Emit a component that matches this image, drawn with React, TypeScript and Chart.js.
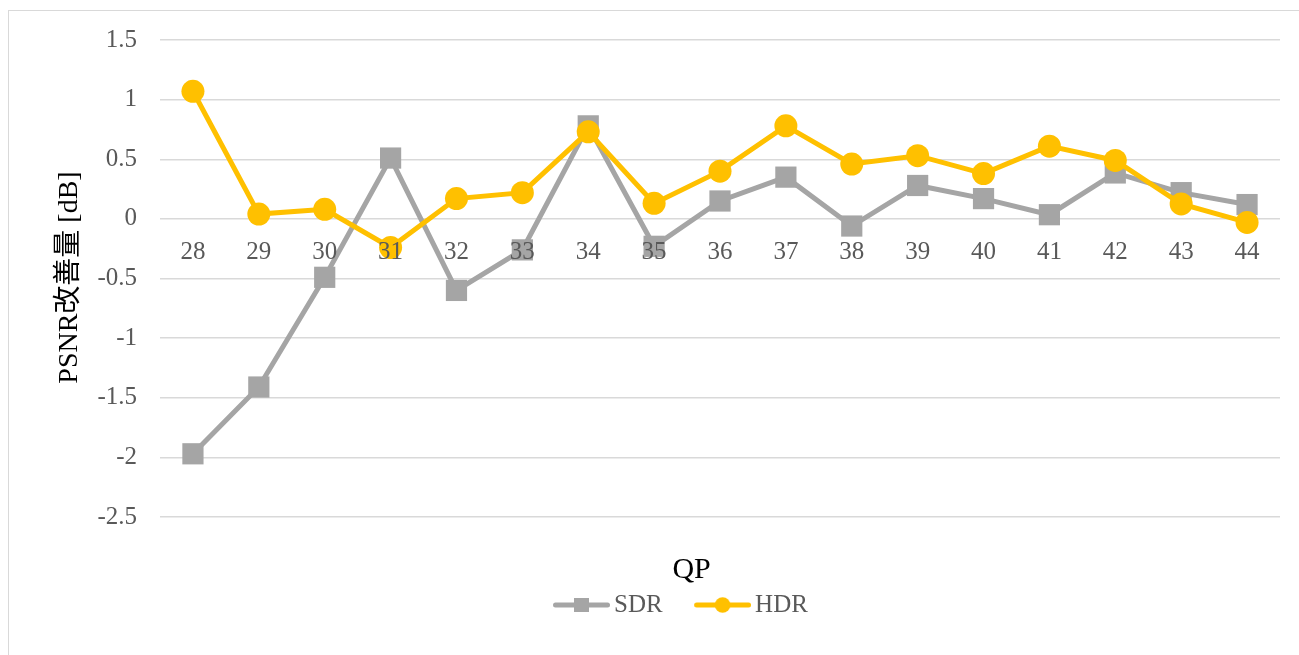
import React, { useEffect, useRef } from "react";
import { Chart, registerables } from "chart.js";

Chart.register(...registerables);

const categories = ["28", "29", "30", "31", "32", "33", "34", "35", "36", "37", "38", "39", "40", "41", "42", "43", "44"];
const sdrValues = [-1.97, -1.41, -0.49, 0.51, -0.6, -0.26, 0.78, -0.23, 0.15, 0.35, -0.06, 0.28, 0.17, 0.035, 0.385, 0.22, 0.12];
const hdrValues = [1.07, 0.04, 0.08, -0.24, 0.17, 0.22, 0.73, 0.13, 0.4, 0.78, 0.46, 0.53, 0.38, 0.61, 0.49, 0.125, -0.03];
const seriesNames = ["SDR", "HDR"];
const seriesColors = ["#A5A5A5", "#FFC000"];
const yMin = -2.5;
const yMax = 1.5;
const yStep = 0.5;
const xAxisTitle = "QP";
const yAxisTitle = "PSNR改善量 [dB]";

const FONT = '"Liberation Serif", "Noto Sans CJK JP", serif';

function makeLegendIcon(color: string, shape: "rect" | "circle") {
  const c = document.createElement("canvas");
  c.width = 87;
  c.height = 20;
  const g = c.getContext("2d")!;
  g.strokeStyle = color;
  g.lineWidth = 5;
  g.lineCap = "round";
  g.beginPath();
  g.moveTo(32.5, 10);
  g.lineTo(84.5, 10);
  g.stroke();
  g.fillStyle = color;
  if (shape === "rect") {
    g.fillRect(58.5 - 7.5, 10 - 7, 15, 14);
  } else {
    g.beginPath();
    g.arc(58.5, 10, 7.8, 0, Math.PI * 2);
    g.fill();
  }
  return c;
}

const titlesPlugin = {
  id: "customTitles",
  afterDraw(chart: any) {
    const { ctx, chartArea } = chart;
    ctx.save();
    ctx.fillStyle = "#000000";
    ctx.textAlign = "center";
    ctx.textBaseline = "alphabetic";
    ctx.font = `30px ${FONT}`;
    ctx.fillText(xAxisTitle, chartArea.left + (chartArea.right - chartArea.left) * 0.4746, chartArea.bottom + 61);
    ctx.translate(77, (chartArea.top + chartArea.bottom) / 2 - 1);
    ctx.rotate(-Math.PI / 2);
    ctx.font = `28px ${FONT}`;
    ctx.fillText(yAxisTitle, 0, 0);
    ctx.restore();
  },
};

export default function App() {
  const canvasRef = useRef<HTMLCanvasElement | null>(null);

  useEffect(() => {
    document.body.style.overflow = "hidden";
    const canvas = canvasRef.current;
    if (!canvas) return;
    const icons = [makeLegendIcon(seriesColors[0], "rect"), makeLegendIcon(seriesColors[1], "circle")];
    const chart = new Chart(canvas, {
      type: "line",
      data: {
        labels: categories,
        datasets: [
          {
            label: seriesNames[0],
            data: sdrValues,
            borderColor: seriesColors[0],
            backgroundColor: seriesColors[0],
            borderWidth: 5,
            pointStyle: "rect",
            pointRadius: 15,
            pointBorderWidth: 0,
            pointBackgroundColor: seriesColors[0],
            tension: 0,
            order: 1,
          },
          {
            label: seriesNames[1],
            data: hdrValues,
            borderColor: seriesColors[1],
            backgroundColor: seriesColors[1],
            borderWidth: 5,
            pointStyle: "circle",
            pointRadius: 11.5,
            pointBorderWidth: 0,
            pointBackgroundColor: seriesColors[1],
            tension: 0,
            order: 0,
          },
        ],
      },
      options: {
        responsive: false,
        animation: false,
        layout: { padding: { left: 59.4, right: 19, top: 40, bottom: 27.5 } },
        plugins: {
          tooltip: { enabled: false },
          title: { display: false },
          legend: {
            display: true,
            position: "bottom",
            title: { display: true, text: " ", font: { size: 12, family: FONT }, padding: { top: 51.1, bottom: 0 } },
            labels: {
              usePointStyle: true,
              pointStyleWidth: 70,
              boxHeight: 10,
              padding: 10,
              font: { size: 25, family: FONT },
              color: "#595959",
              generateLabels: (ch: any) =>
                ch.data.datasets.map((ds: any, i: number) => ({
                  text: ds.label,
                  fillStyle: ds.borderColor,
                  strokeStyle: ds.borderColor,
                  lineWidth: 0,
                  pointStyle: icons[i],
                  datasetIndex: i,
                  hidden: false,
                  fontColor: "#595959",
                })),
            },
          },
        },
        scales: {
          x: {
            type: "category",
            offset: true,
            position: { y: 0 } as any,
            grid: { display: false, drawTicks: false },
            border: { display: false },
            ticks: {
              z: 1,
              color: "#595959",
              font: { size: 25, family: FONT },
              padding: 19,
              maxRotation: 0,
              autoSkip: false,
            },
          },
          y: {
            type: "linear",
            min: yMin,
            max: yMax,
            afterFit: (scale: any) => {
              scale.width = 160 - 59.4;
            },
            grid: { color: "#D9D9D9", lineWidth: 1.5, drawTicks: false },
            border: { display: false },
            ticks: {
              stepSize: yStep,
              color: "#595959",
              font: { size: 25, family: FONT },
              padding: 23,
              callback: (v: any) => String(Math.round(Number(v) * 10) / 10),
            },
          },
        },
      },
      plugins: [titlesPlugin],
    });
    return () => chart.destroy();
  }, []);

  return (
    <div style={{ position: "fixed", left: 0, top: 0, width: 1299, height: 655, background: "#fff", overflow: "hidden" }}>
      <canvas ref={canvasRef} width={1299} height={655} style={{ display: "block", width: 1299, height: 655 }} />
      <div
        style={{
          position: "absolute",
          left: 8,
          top: 10,
          width: 1400,
          height: 800,
          border: "1px solid #D9D9D9",
          pointerEvents: "none",
        }}
      />
    </div>
  );
}
